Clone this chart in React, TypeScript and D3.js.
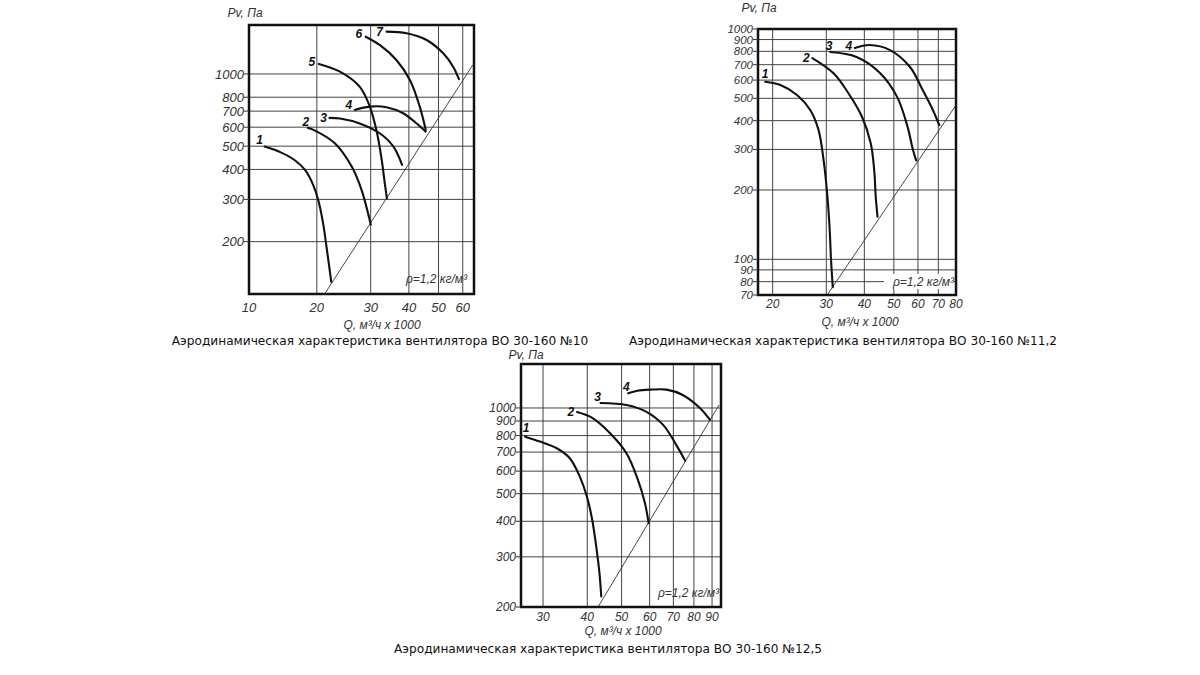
import React from "react";
import * as d3 from "d3";

type Pt = [number, number];

// ---------- Panel 1: ВО 30-160 №10 ----------
const p1XTicks = [10, 20, 30, 40, 50, 60];
const p1XGrid = [20, 30, 40, 50, 60];
const p1YTicks = [1000, 800, 700, 600, 500, 400, 300, 200];
const p1Curve1: Pt[] = [[13.5, 498], [15.3, 470], [16.9, 438], [18.3, 398], [19.45, 345], [20.2, 299], [20.96, 239], [21.5, 191], [22.3, 136]];
const p1Curve2: Pt[] = [[18.7, 596], [19.5, 585], [22.9, 514], [26, 411], [28, 329], [29.4, 263], [30, 236]];
const p1Curve3: Pt[] = [[22, 656], [23.8, 652], [27.6, 622], [32.1, 566], [35.6, 498], [38, 418]];
const p1Curve4: Pt[] = [[26.6, 708], [29.8, 731], [33.8, 727], [38.3, 686], [42.3, 623], [45.4, 575]];
const p1Curve5: Pt[] = [[20.3, 1101], [23.8, 1022], [27.6, 885], [29.8, 731], [31.3, 585], [32.6, 438], [33.35, 351], [33.9, 303]];
const p1Curve6: Pt[] = [[28.9, 1430], [32.1, 1321], [36.4, 1144], [40.3, 944], [43.4, 731], [45.4, 585]];
const p1Curve7: Pt[] = [[33.8, 1501], [39.3, 1478], [45.7, 1386], [51.8, 1219], [55.8, 1072], [58.3, 951]];
const p1Limit: Pt[] = [[21.2, 121], [64.7, 1090]];
const p1Names = ["1", "2", "3", "4", "5", "6", "7"];
const p1Caption = "Аэродинамическая характеристика вентилятора ВО 30-160 №10";

// ---------- Panel 2: ВО 30-160 №11,2 ----------
const p2XTicks = [20, 30, 40, 50, 60, 70, 80];
const p2XGrid = [20, 30, 40, 50, 60, 70];
const p2YTicks = [1000, 900, 800, 700, 600, 500, 400, 300, 200, 100, 90, 80, 70];
const p2YGrid = [900, 800, 700, 600, 500, 400, 300, 200, 100, 90, 80];
const p2Curve1: Pt[] = [[18.9, 590], [21.2, 571], [24.1, 516], [26.6, 444], [28.3, 364], [29.4, 269], [30.2, 193], [30.75, 138], [31.1, 99], [31.5, 75.7]];
const p2Curve2: Pt[] = [[27, 748], [31.7, 642], [35.5, 525], [39.3, 416], [42, 318], [43.1, 244], [43.6, 187], [44.2, 153]];
const p2Curve3: Pt[] = [[30.9, 794], [37.7, 756], [45.1, 643], [51.3, 506], [55.5, 375], [57.8, 298], [59.2, 269]];
const p2Curve4: Pt[] = [[37.2, 827], [41.6, 852], [48.6, 810], [56.5, 684], [62.2, 543], [67.2, 444], [70.5, 382]];
const p2Limit: Pt[] = [[30.2, 70], [80, 467]];
const p2Names = ["1", "2", "3", "4"];
const p2Caption = "Аэродинамическая характеристика вентилятора ВО 30-160 №11,2";

// ---------- Panel 3: ВО 30-160 №12,5 ----------
const p3XTicks = [30, 40, 50, 60, 70, 80, 90];
const p3XGrid = [30, 40, 50, 60, 70, 80, 90];
const p3YTicks = [1000, 900, 800, 700, 600, 500, 400, 300, 200];
const p3YGrid = [1000, 900, 800, 700, 600, 500, 400, 300];
const p3Curve1: Pt[] = [[26.7, 793], [29.4, 762], [32.8, 722], [35.7, 666], [38.1, 574], [39.9, 489], [41.3, 405], [42.4, 326], [43.3, 263], [43.8, 218]];
const p3Curve2: Pt[] = [[37.4, 968], [41.2, 925], [46.4, 815], [51.6, 693], [55.6, 559], [58.2, 463], [59.6, 394]];
const p3Curve3: Pt[] = [[43.6, 1041], [51.6, 1024], [58.6, 971], [65.5, 872], [71.3, 742], [75.6, 652]];
const p3Curve4: Pt[] = [[52.2, 1126], [55.4, 1150], [60.1, 1160], [67, 1160], [74.4, 1111], [83.3, 998], [88.8, 908]];
const p3Limit: Pt[] = [[42.9, 200], [94.2, 1024]];
const p3Names = ["1", "2", "3", "4"];
const p3Caption = "Аэродинамическая характеристика вентилятора ВО 30-160 №12,5";

const yTitle = "Pv, Па";
const xTitle = "Q, м³/ч x 1000";
const rhoText = "ρ=1,2 кг/м³";

const ITAL = "'Liberation Sans', Arial, sans-serif";
const CAP = "'DejaVu Sans', Verdana, sans-serif";
const TXT = "#333";

interface PanelCfg {
  box: { x: number; y: number; w: number; h: number };
  xDomain: [number, number];
  yDomain: [number, number];
  xTicks: number[];
  xGrid: number[];
  yTicks: number[];
  yGrid: number[];
  curves: Pt[][];
  names: string[];
  labelOff: [number, number][];
  limit: Pt[];
  caption: string;
  fs: number;
  yfs: number;
  xLabelY: number;
  xTitlePos: [number, number];
  captionPos: [number, number];
  yTitlePos: [number, number];
  rhoPos: [number, number];
  rhoBg: boolean;
}

const panels: PanelCfg[] = [
  {
    box: { x: 249, y: 25, w: 225, h: 269 },
    xDomain: [12.0, 65.3],
    yDomain: [121, 1600],
    xTicks: p1XTicks,
    xGrid: p1XGrid,
    yTicks: p1YTicks,
    yGrid: p1YTicks,
    curves: [p1Curve1, p1Curve2, p1Curve3, p1Curve4, p1Curve5, p1Curve6, p1Curve7],
    names: p1Names,
    labelOff: [[-5, -7], [-2, -6], [-6, 0], [-6, -5], [-7, -2], [-7, -3], [-7, 0]],
    limit: p1Limit,
    caption: p1Caption,
    fs: 13,
    yfs: 13,
    xLabelY: 307,
    xTitlePos: [382, 325],
    captionPos: [380, 341],
    yTitlePos: [245, 13],
    rhoPos: [467, 279],
    rhoBg: false,
  },
  {
    box: { x: 758, y: 29, w: 198, h: 266 },
    xDomain: [17.9, 80],
    yDomain: [70, 1000],
    xTicks: p2XTicks,
    xGrid: p2XGrid,
    yTicks: p2YTicks,
    yGrid: p2YGrid,
    curves: [p2Curve1, p2Curve2, p2Curve3, p2Curve4],
    names: p2Names,
    labelOff: [[0, -8], [-6, 0], [-1, -6], [-6, -2]],
    limit: p2Limit,
    caption: p2Caption,
    fs: 12,
    yfs: 11.5,
    xLabelY: 304,
    xTitlePos: [860, 322],
    captionPos: [843, 341],
    yTitlePos: [759, 8],
    rhoPos: [954, 282],
    rhoBg: true,
  },
  {
    box: { x: 521, y: 364, w: 200, h: 243 },
    xDomain: [26, 95.4],
    yDomain: [200, 1427],
    xTicks: p3XTicks,
    xGrid: p3XGrid,
    yTicks: p3YTicks,
    yGrid: p3YGrid,
    curves: [p3Curve1, p3Curve2, p3Curve3, p3Curve4],
    names: p3Names,
    labelOff: [[1, -9], [-6, 0], [-3, -6], [-2, -6]],
    limit: p3Limit,
    caption: p3Caption,
    fs: 12,
    yfs: 12,
    xLabelY: 617,
    xTitlePos: [623, 631],
    captionPos: [608, 649],
    yTitlePos: [526, 355],
    rhoPos: [719, 593],
    rhoBg: false,
  },
];

function Panel({ c }: { c: PanelCfg }) {
  const { box } = c;
  const x = d3.scaleLog().domain(c.xDomain).range([box.x, box.x + box.w]).clamp(true);
  const y = d3.scaleLog().domain(c.yDomain).range([box.y + box.h, box.y]);
  const line = d3
    .line<Pt>()
    .x((d) => x(d[0]))
    .y((d) => y(d[1]))
    .curve(d3.curveCatmullRom.alpha(0.5));
  const straight = d3
    .line<Pt>()
    .x((d) => x(d[0]))
    .y((d) => y(d[1]));
  const rhoW = c.rhoBg ? 70 : 0;
  return (
    <g>
      {c.xGrid.map((v) => (
        <line key={"gx" + v} x1={x(v)} x2={x(v)} y1={box.y} y2={box.y + box.h} stroke="#444" strokeWidth={1} />
      ))}
      {c.yGrid.map((v) => (
        <line key={"gy" + v} x1={box.x} x2={box.x + box.w} y1={y(v)} y2={y(v)} stroke="#444" strokeWidth={1} />
      ))}
      {c.rhoBg && (
        <rect x={c.rhoPos[0] - rhoW} y={c.rhoPos[1] - 8} width={rhoW} height={15} fill="#fff" />
      )}
      <path d={straight(c.limit) || ""} fill="none" stroke="#333" strokeWidth={0.9} />
      {c.curves.map((pts, i) => (
        <path key={"c" + i} d={line(pts) || ""} fill="none" stroke="#111" strokeWidth={2.1} strokeLinecap="round" />
      ))}
      {c.curves.map((pts, i) => (
        <text
          key={"n" + i}
          x={x(pts[0][0]) + c.labelOff[i][0]}
          y={y(pts[0][1]) + c.labelOff[i][1]}
          dy="0.35em"
          textAnchor="middle"
          fontFamily={ITAL}
          fontStyle="italic"
          fontWeight="bold"
          fontSize={12}
          fill="#111"
        >
          {c.names[i]}
        </text>
      ))}
      <rect x={box.x} y={box.y} width={box.w} height={box.h} fill="none" stroke="#111" strokeWidth={2.5} />
      {c.yTicks.map((v) => (
        <g key={"yt" + v}>
          <line x1={box.x - 5} x2={box.x} y1={y(v)} y2={y(v)} stroke="#333" strokeWidth={1} />
          <text
            x={box.x - 5}
            y={y(v)}
            dy="0.35em"
            textAnchor="end"
            fontFamily={ITAL}
            fontStyle="italic"
            fontSize={c.yfs}
            fill={TXT}
          >
            {v}
          </text>
        </g>
      ))}
      {c.xTicks.map((v) => (
        <text
          key={"xt" + v}
          x={x(v)}
          y={c.xLabelY}
          dy="0.35em"
          textAnchor="middle"
          fontFamily={ITAL}
          fontStyle="italic"
          fontSize={c.fs}
          fill={TXT}
        >
          {v}
        </text>
      ))}
      <text
        x={c.yTitlePos[0]}
        y={c.yTitlePos[1]}
        dy="0.35em"
        textAnchor="middle"
        fontFamily={ITAL}
        fontStyle="italic"
        fontSize={12}
        fill={TXT}
      >
        {yTitle}
      </text>
      <text
        x={c.xTitlePos[0]}
        y={c.xTitlePos[1]}
        dy="0.35em"
        textAnchor="middle"
        fontFamily={ITAL}
        fontStyle="italic"
        fontSize={12}
        fill={TXT}
      >
        {xTitle}
      </text>
      <text
        x={c.rhoPos[0]}
        y={c.rhoPos[1]}
        dy="0.35em"
        textAnchor="end"
        fontFamily={ITAL}
        fontStyle="italic"
        fontSize={12}
        fill={TXT}
      >
        {rhoText}
      </text>
      <text
        x={c.captionPos[0]}
        y={c.captionPos[1]}
        dy="0.35em"
        textAnchor="middle"
        fontFamily={CAP}
        fontSize={12.15}
        fill="#111"
      >
        {c.caption}
      </text>
    </g>
  );
}

export default function App() {
  return (
    <svg
      width={1200}
      height={675}
      style={{ position: "absolute", left: 0, top: 0, background: "#fff" }}
    >
      <rect x={0} y={0} width={1200} height={675} fill="#fff" />
      {panels.map((p, i) => (
        <Panel key={i} c={p} />
      ))}
    </svg>
  );
}
